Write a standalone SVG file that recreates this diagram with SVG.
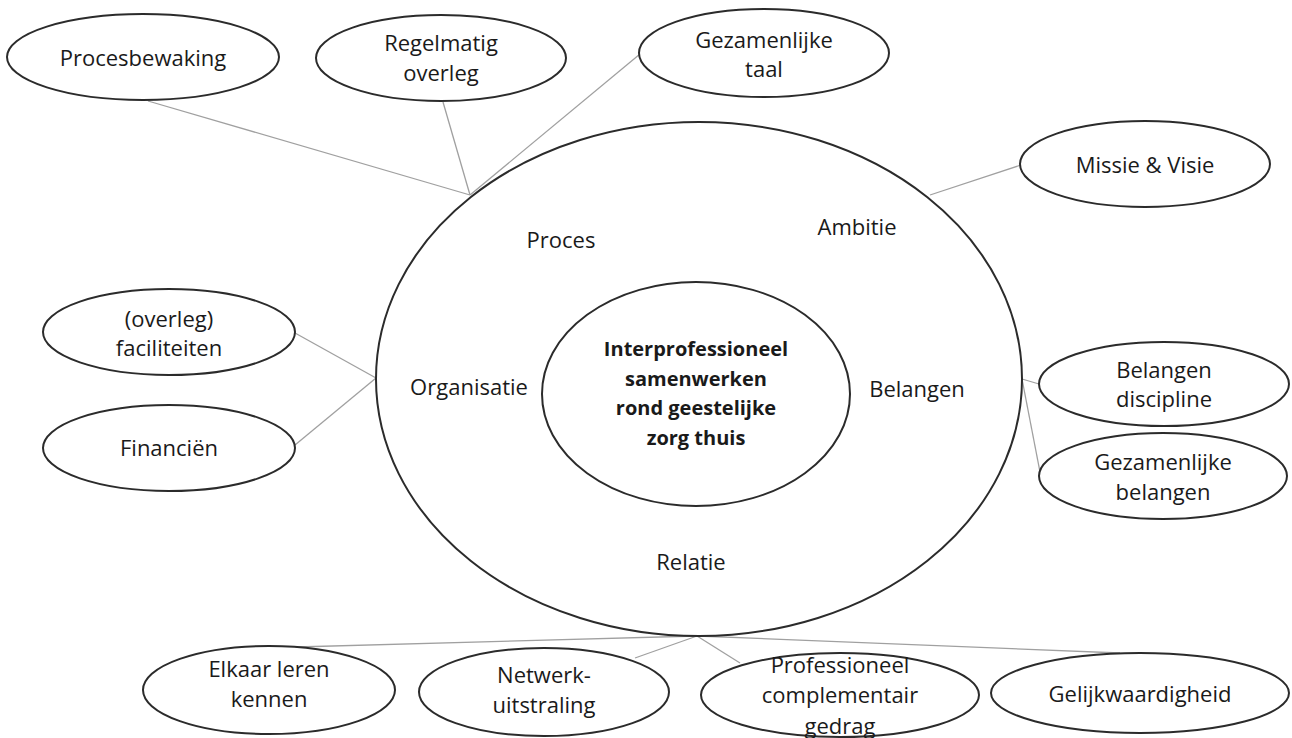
<svg xmlns="http://www.w3.org/2000/svg" width="1292" height="738" viewBox="0 0 1292 738">
<style>
.n{fill:#fff;stroke:#2b2b2b;stroke-width:2}
.big{fill:#fff;stroke:#2b2b2b;stroke-width:2}
.c{stroke:#a0a0a0;stroke-width:1.3;fill:none}
text{font-family:"Open Sans","Liberation Sans",sans-serif;font-size:22px;fill:#1a1a1a;text-anchor:middle}
.b{font-weight:bold;font-size:20px}
</style>
<rect width="1292" height="738" fill="#fff"/>
<g id="connectors">
<line class="c" x1="148" y1="101" x2="470" y2="195"/>
<line class="c" x1="443" y1="102" x2="470" y2="195"/>
<line class="c" x1="640" y1="54" x2="470" y2="195"/>
<line class="c" x1="930" y1="195" x2="1021" y2="165"/>
<line class="c" x1="1022" y1="379" x2="1039" y2="384"/>
<line class="c" x1="1022" y1="379" x2="1040" y2="472"/>
<line class="c" x1="295" y1="333" x2="376" y2="378"/>
<line class="c" x1="295" y1="445" x2="376" y2="378"/>
<line class="c" x1="697" y1="636" x2="296" y2="647"/>
<line class="c" x1="697" y1="636" x2="635" y2="658"/>
<line class="c" x1="697" y1="636" x2="740" y2="663"/>
<line class="c" x1="697" y1="636" x2="1120" y2="653"/>
</g>
<g id="outer">
<ellipse class="big" cx="699" cy="379" rx="323" ry="257"/>
<text x="561" y="248">Proces</text>
<text x="857" y="235">Ambitie</text>
<text x="469" y="395">Organisatie</text>
<text x="917" y="397">Belangen</text>
<text x="691" y="570">Relatie</text>
</g>
<g id="center">
<ellipse class="n" cx="696" cy="394" rx="154" ry="112"/>
<text class="b" x="696" y="356">Interprofessioneel</text>
<text class="b" x="696" y="386">samenwerken</text>
<text class="b" x="696" y="415">rond geestelijke</text>
<text class="b" x="696" y="445">zorg thuis</text>
</g>
<g id="procesbewaking">
<ellipse class="n" cx="143" cy="57" rx="136" ry="43"/>
<text x="143" y="66">Procesbewaking</text>
</g>
<g id="regelmatig">
<ellipse class="n" cx="441" cy="58" rx="125" ry="43"/>
<text x="441" y="51">Regelmatig</text>
<text x="441" y="81">overleg</text>
</g>
<g id="gezamenlijke-taal">
<ellipse class="n" cx="764" cy="53" rx="125" ry="44"/>
<text x="764" y="48">Gezamenlijke</text>
<text x="764" y="77">taal</text>
</g>
<g id="missie">
<ellipse class="n" cx="1145" cy="164" rx="125" ry="43"/>
<text x="1145" y="173">Missie &amp; Visie</text>
</g>
<g id="belangen-discipline">
<ellipse class="n" cx="1164" cy="384" rx="125" ry="42"/>
<text x="1164" y="378">Belangen</text>
<text x="1164" y="407">discipline</text>
</g>
<g id="gezamenlijke-belangen">
<ellipse class="n" cx="1163" cy="476" rx="124" ry="43"/>
<text x="1163" y="470">Gezamenlijke</text>
<text x="1163" y="500">belangen</text>
</g>
<g id="faciliteiten">
<ellipse class="n" cx="169" cy="332" rx="126" ry="43"/>
<text x="169" y="327">(overleg)</text>
<text x="169" y="356">faciliteiten</text>
</g>
<g id="financien">
<ellipse class="n" cx="169" cy="448" rx="126" ry="43"/>
<text x="169" y="456">Financiën</text>
</g>
<g id="elkaar">
<ellipse class="n" cx="269" cy="690" rx="126" ry="44"/>
<text x="269" y="677">Elkaar leren</text>
<text x="269" y="707">kennen</text>
</g>
<g id="netwerk">
<ellipse class="n" cx="544" cy="692" rx="125" ry="44"/>
<text x="544" y="683">Netwerk-</text>
<text x="544" y="713">uitstraling</text>
</g>
<g id="professioneel">
<ellipse class="n" cx="840" cy="695" rx="139" ry="42"/>
<text x="840" y="673">Professioneel</text>
<text x="840" y="703">complementair</text>
<text x="840" y="734">gedrag</text>
</g>
<g id="gelijkwaardigheid">
<ellipse class="n" cx="1140" cy="693" rx="149" ry="40"/>
<text x="1140" y="702">Gelijkwaardigheid</text>
</g>
</svg>
